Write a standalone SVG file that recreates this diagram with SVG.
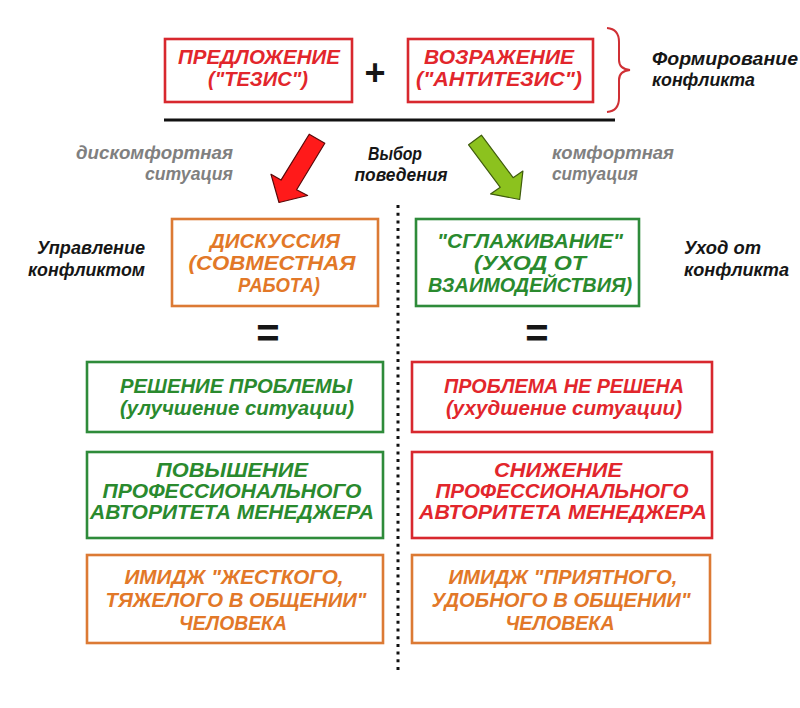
<svg xmlns="http://www.w3.org/2000/svg" width="800" height="708" viewBox="0 0 800 708">
<style>
text{font-family:"Liberation Sans",Arial,sans-serif;font-weight:bold;font-style:italic;}
.bt{font-size:20.5px;text-anchor:middle}
.bs{font-size:20px}
.lb{font-size:17.5px}
.box{fill:#ffffff;stroke-width:2.6}
.sr{stroke:#D8282E}
.sg{stroke:#2E8B3A}
.so{stroke:#DC7A34}
.tr{fill:#E2262C}
.tg{fill:#2A8A2E}
.to{fill:#E27828}
.tk{fill:#161616}
.ty{fill:#808080}
.end{text-anchor:end}
</style>
<rect width="800" height="708" fill="#ffffff"/>

<g id="thesis">
<rect class="box sr" x="165" y="39" width="187" height="63"/>
<text class="bt bs tr" x="259" y="64" textLength="162" lengthAdjust="spacingAndGlyphs">ПРЕДЛОЖЕНИЕ</text>
<text class="bt bs tr" x="258" y="86" textLength="100" lengthAdjust="spacingAndGlyphs">("ТЕЗИС")</text>
</g>
<g id="plus">
<text x="375" y="85" style="font-size:36px;font-style:normal;text-anchor:middle" class="tk">+</text>
</g>
<g id="antithesis">
<rect class="box sr" x="408" y="39" width="185" height="63"/>
<text class="bt bs tr" x="499" y="64" textLength="150" lengthAdjust="spacingAndGlyphs">ВОЗРАЖЕНИЕ</text>
<text class="bt bs tr" x="499" y="86" textLength="166" lengthAdjust="spacingAndGlyphs">("АНТИТЕЗИС")</text>
</g>
<g id="brace">
<path d="M607,28 Q619,29 619,42 L619,60 Q619,69 630,70 Q619,71 619,80 L619,98 Q619,111 607,112" fill="none" stroke="#D03035" stroke-width="2"/>
</g>
<g id="label-formation">
<text class="lb tk" x="652" y="65" textLength="146" lengthAdjust="spacingAndGlyphs">Формирование</text>
<text class="lb tk" x="652" y="86" textLength="103" lengthAdjust="spacingAndGlyphs">конфликта</text>
</g>

<g id="connectors">
<line x1="164" y1="120" x2="615" y2="120" stroke="#111" stroke-width="3.2"/>
<polygon points="309.2,134.2 324.8,143.3 296.6,189.7 307.6,195.5 279,202.5 271,174.3 281,180.1" fill="#FF1A1A" stroke="#5a0a0a" stroke-width="1.2" stroke-linejoin="round"/>
<polygon points="481.4,135.2 513.1,177.7 522.9,171.1 519.7,199.5 490.5,193.9 500.3,187.3 468.6,144.8" fill="#8CC21E" stroke="#3f5c0c" stroke-width="1.2" stroke-linejoin="round"/>
<line x1="398" y1="205" x2="398" y2="671" stroke="#111" stroke-width="3" stroke-dasharray="3 4.7"/>
</g>

<g id="label-discomfort">
<text class="lb ty end" x="233" y="159" textLength="157" lengthAdjust="spacingAndGlyphs">дискомфортная</text>
<text class="lb ty end" x="233" y="180" textLength="88" lengthAdjust="spacingAndGlyphs">ситуация</text>
</g>
<g id="label-choice">
<text class="lb tk" x="395" y="160" style="text-anchor:middle" textLength="54" lengthAdjust="spacingAndGlyphs">Выбор</text>
<text class="lb tk" x="401" y="181" style="text-anchor:middle" textLength="93" lengthAdjust="spacingAndGlyphs">поведения</text>
</g>
<g id="label-comfort">
<text class="lb ty" x="552" y="159" textLength="122" lengthAdjust="spacingAndGlyphs">комфортная</text>
<text class="lb ty" x="552" y="180" textLength="86" lengthAdjust="spacingAndGlyphs">ситуация</text>
</g>
<g id="label-management">
<text class="lb tk end" x="145" y="254" textLength="108" lengthAdjust="spacingAndGlyphs">Управление</text>
<text class="lb tk end" x="145" y="276" textLength="117" lengthAdjust="spacingAndGlyphs">конфликтом</text>
</g>
<g id="label-avoid">
<text class="lb tk" x="684" y="254" textLength="77" lengthAdjust="spacingAndGlyphs">Уход от</text>
<text class="lb tk" x="684" y="276" textLength="105" lengthAdjust="spacingAndGlyphs">конфликта</text>
</g>

<g id="discussion">
<rect class="box so" x="172" y="219" width="206" height="87"/>
<text class="bt to" x="275" y="248" textLength="130" lengthAdjust="spacingAndGlyphs">ДИСКУССИЯ</text>
<text class="bt to" x="272" y="270" textLength="167" lengthAdjust="spacingAndGlyphs">(СОВМЕСТНАЯ</text>
<text class="bt to" x="279" y="292" textLength="82" lengthAdjust="spacingAndGlyphs">РАБОТА)</text>
</g>
<g id="smoothing">
<rect class="box sg" x="416" y="219" width="223" height="87"/>
<text class="bt tg" x="530" y="248" textLength="186" lengthAdjust="spacingAndGlyphs">"СГЛАЖИВАНИЕ"</text>
<text class="bt tg" x="530" y="270" textLength="112" lengthAdjust="spacingAndGlyphs">(УХОД ОТ</text>
<text class="bt tg" x="530" y="292" textLength="204" lengthAdjust="spacingAndGlyphs">ВЗАИМОДЕЙСТВИЯ)</text>
</g>
<g id="eq-left">
<text x="268" y="347" style="font-size:40px;font-style:normal;text-anchor:middle" class="tk">=</text>
</g>
<g id="eq-right">
<text x="537" y="347" style="font-size:40px;font-style:normal;text-anchor:middle" class="tk">=</text>
</g>

<g id="solved">
<rect class="box sg" x="87" y="362" width="296" height="70"/>
<text class="bt tg" x="236" y="393" textLength="232" lengthAdjust="spacingAndGlyphs">РЕШЕНИЕ ПРОБЛЕМЫ</text>
<text class="bt tg" x="237" y="415" textLength="234" lengthAdjust="spacingAndGlyphs">(улучшение ситуации)</text>
</g>
<g id="unsolved">
<rect class="box sr" x="412" y="362" width="300" height="70"/>
<text class="bt tr" x="564" y="393" textLength="240" lengthAdjust="spacingAndGlyphs">ПРОБЛЕМА НЕ РЕШЕНА</text>
<text class="bt tr" x="564" y="415" textLength="236" lengthAdjust="spacingAndGlyphs">(ухудшение ситуации)</text>
</g>
<g id="authority-up">
<rect class="box sg" x="87" y="452" width="296" height="86"/>
<text class="bt tg" x="232" y="477" textLength="152" lengthAdjust="spacingAndGlyphs">ПОВЫШЕНИЕ</text>
<text class="bt tg" x="232" y="498" textLength="259" lengthAdjust="spacingAndGlyphs">ПРОФЕССИОНАЛЬНОГО</text>
<text class="bt tg" x="232" y="519" textLength="284" lengthAdjust="spacingAndGlyphs">АВТОРИТЕТА МЕНЕДЖЕРА</text>
</g>
<g id="authority-down">
<rect class="box sr" x="412" y="452" width="300" height="86"/>
<text class="bt tr" x="558" y="477" textLength="128" lengthAdjust="spacingAndGlyphs">СНИЖЕНИЕ</text>
<text class="bt tr" x="562" y="498" textLength="253" lengthAdjust="spacingAndGlyphs">ПРОФЕССИОНАЛЬНОГО</text>
<text class="bt tr" x="563" y="519" textLength="288" lengthAdjust="spacingAndGlyphs">АВТОРИТЕТА МЕНЕДЖЕРА</text>
</g>
<g id="image-hard">
<rect class="box so" x="87" y="555" width="296" height="88"/>
<text class="bt to" x="234" y="584" textLength="219" lengthAdjust="spacingAndGlyphs">ИМИДЖ "ЖЕСТКОГО,</text>
<text class="bt to" x="236" y="607" textLength="261" lengthAdjust="spacingAndGlyphs">ТЯЖЕЛОГО В ОБЩЕНИИ"</text>
<text class="bt to" x="233" y="630" textLength="108" lengthAdjust="spacingAndGlyphs">ЧЕЛОВЕКА</text>
</g>
<g id="image-pleasant">
<rect class="box so" x="412" y="555" width="298" height="88"/>
<text class="bt to" x="563" y="584" textLength="229" lengthAdjust="spacingAndGlyphs">ИМИДЖ "ПРИЯТНОГО,</text>
<text class="bt to" x="561" y="607" textLength="259" lengthAdjust="spacingAndGlyphs">УДОБНОГО В ОБЩЕНИИ"</text>
<text class="bt to" x="560" y="630" textLength="109" lengthAdjust="spacingAndGlyphs">ЧЕЛОВЕКА</text>
</g>
</svg>
